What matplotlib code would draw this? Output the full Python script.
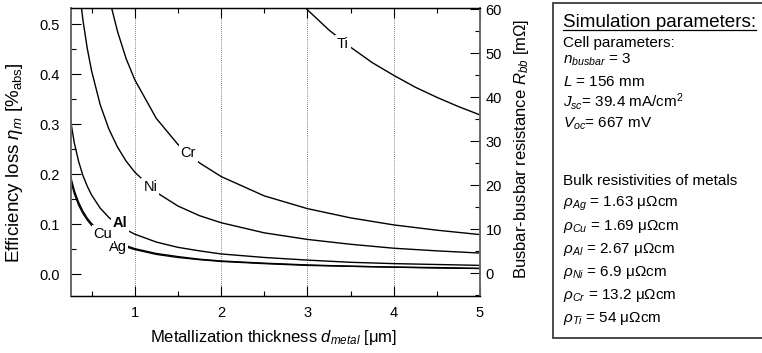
import numpy as np
import matplotlib
matplotlib.use("Agg")
import matplotlib.pyplot as plt
from matplotlib.ticker import MultipleLocator
from matplotlib.patches import Rectangle
from matplotlib.lines import Line2D

plt.rcParams["font.family"] = ["Liberation Sans", "DejaVu Sans"]
plt.rcParams["mathtext.fontset"] = "custom"
plt.rcParams["mathtext.rm"] = "Liberation Sans"
plt.rcParams["mathtext.it"] = "Liberation Sans:italic"
plt.rcParams["mathtext.bf"] = "Liberation Sans:bold"

# ── Busbar-busbar resistance vs. metal thickness (mOhm) ──────────────────────

thickness_fine = [0.25, 0.3, 0.35, 0.4, 0.45, 0.5, 0.6, 0.7, 0.8, 0.9, 1.0,
                  1.25, 1.5, 1.75, 2.0, 2.5, 3.0, 3.5, 4.0, 4.5, 5.0]
r_ag = [21.7, 18.1, 15.5, 13.6, 12.1, 10.9, 9.1, 7.8, 6.8, 6.0, 5.4,
        4.3, 3.6, 3.1, 2.7, 2.2, 1.8, 1.6, 1.4, 1.2, 1.1]
r_cu = [22.5, 18.8, 16.1, 14.1, 12.5, 11.3, 9.4, 8.0, 7.0, 6.3, 5.6,
        4.5, 3.8, 3.2, 2.8, 2.3, 1.9, 1.6, 1.4, 1.3, 1.1]
r_al = [35.6, 29.6, 25.4, 22.2, 19.8, 17.8, 14.8, 12.7, 11.1, 9.9, 8.9,
        7.1, 5.9, 5.1, 4.4, 3.6, 3.0, 2.5, 2.2, 2.0, 1.8]

thickness_ni = [0.35, 0.4, 0.45, 0.5, 0.6, 0.7, 0.8, 0.9, 1.0, 1.25, 1.5,
                1.75, 2.0, 2.5, 3.0, 3.5, 4.0, 4.5, 5.0]
r_ni = [65.7, 57.5, 51.1, 46.0, 38.3, 32.8, 28.7, 25.5, 23.0, 18.4, 15.3,
        13.1, 11.5, 9.2, 7.7, 6.6, 5.7, 5.1, 4.6]

thickness_cr = [0.7, 0.8, 0.9, 1.0, 1.25, 1.5, 1.75, 2.0, 2.5, 3.0, 3.5,
                4.0, 4.5, 5.0]
r_cr = [62.8, 55.0, 48.8, 44.0, 35.2, 29.3, 25.1, 22.0, 17.6, 14.7, 12.6,
        11.0, 9.8, 8.8]

thickness_ti = [2.75, 3.0, 3.25, 3.5, 3.75, 4.0, 4.25, 4.5, 4.75, 5.0]
r_ti = [65.4, 59.9, 55.3, 51.4, 47.9, 45.0, 42.3, 40.0, 37.9, 36.0]

# curve name -> (thickness, resistance, label thickness, label nudge, bold)
curves = {
    "Ag": (thickness_fine, r_ag, 0.80, -0.8, False),
    "Cu": (thickness_fine, r_cu, 0.63, 0.0, False),
    "Al": (thickness_fine, r_al, 0.83, 0.6, True),
    "Ni": (thickness_ni, r_ni, 1.18, 0.0, False),
    "Cr": (thickness_cr, r_cr, 1.62, 0.0, False),
    "Ti": (thickness_ti, r_ti, 3.41, -0.6, False),
}

param_lines = [
    r"Cell parameters:",
    r"$n_{busbar}$ = 3",
    r"$L$ = 156 mm",
    r"$J_{sc}$= 39.4 mA/cm$^2$",
    r"$V_{oc}$= 667 mV",
    r"Bulk resistivities of metals",
    r"$\rho_{Ag}$ = 1.63 μΩcm",
    r"$\rho_{Cu}$ = 1.69 μΩcm",
    r"$\rho_{Al}$ = 2.67 μΩcm",
    r"$\rho_{Ni}$ = 6.9 μΩcm",
    r"$\rho_{Cr}$ = 13.2 μΩcm",
    r"$\rho_{Ti}$ = 54 μΩcm",
]
# baseline of each line, pixels from the top of the figure
param_baselines = [47, 64, 86, 107, 128, 185, 207, 230, 253, 276, 299, 322]

W, H = 762, 353
fig = plt.figure(figsize=(W / 100, H / 100), dpi=100)
ax = fig.add_axes([70.7 / W, 1 - 296 / H, (480 - 70.7) / W, (296 - 8) / H])
ax_r = ax.twinx()

ax.set_xlim(0.258, 5.0)
ax.set_ylim(-0.044, 0.532)
ax_r.set_ylim(-5.16, 60.3)

for xv in [1, 2, 3, 4]:
    ax.axvline(xv, color="#555555", lw=0.6, ls=(0, (1, 1.5)), zorder=1)

for name, (d, r, d_lab, nudge, bold) in curves.items():
    ax_r.plot(d, r, color="black", lw=1.0, zorder=2)
    y_lab = np.interp(d_lab, d, r) + nudge
    ax_r.text(d_lab, y_lab, name, ha="center", va="center", fontsize=10.5,
              fontweight="bold" if bold else "normal", zorder=5,
              bbox=dict(fc="white", ec="none", pad=1.4))

# ticks
ax.xaxis.set_major_locator(MultipleLocator(1))
ax.xaxis.set_minor_locator(MultipleLocator(0.5))
ax.yaxis.set_major_locator(MultipleLocator(0.1))
ax.yaxis.set_minor_locator(MultipleLocator(0.05))
ax_r.yaxis.set_major_locator(MultipleLocator(10))
ax_r.yaxis.set_minor_locator(MultipleLocator(5))

ax.tick_params(axis="x", which="both", direction="in", top=True, pad=7.5,
               labelsize=10.5)
ax.tick_params(axis="y", which="both", direction="in", right=False, pad=8,
               labelsize=10.5)
ax_r.tick_params(axis="y", which="both", direction="in", pad=4, labelsize=10.5)
for a in (ax, ax_r):
    a.tick_params(which="major", length=7, width=0.8)
    a.tick_params(which="minor", length=3.3, width=0.8)

ax.xaxis.set_major_formatter(plt.FuncFormatter(lambda v, p: f"{v:.0f}"))
ax.yaxis.set_major_formatter(plt.FuncFormatter(lambda v, p: f"{v:.1f}"))

for a in (ax, ax_r):
    a.spines["left"].set_color("#6a6a6a")
    a.spines["right"].set_color("#6a6a6a")
    a.spines["left"].set_linewidth(1.3)
    a.spines["right"].set_linewidth(1.3)
    a.spines["top"].set_linewidth(0.9)
    a.spines["bottom"].set_linewidth(0.9)

fig.text(274 / W, 1 - 342 / H, r"Metallization thickness $d_{metal}$ [μm]",
         ha="center", va="baseline", fontsize=12)
fig.text(19 / W, 1 - 163 / H, r"Efficiency loss $\eta_m$ [%$_{\mathrm{abs}}$]",
         ha="center", va="baseline", rotation=90, rotation_mode="anchor",
         fontsize=13.5)
fig.text(526 / W, 1 - 149 / H, r"Busbar-busbar resistance $R_{bb}$ [mΩ]",
         ha="center", va="baseline", rotation=90, rotation_mode="anchor",
         fontsize=12)

# parameter box
fig.patches.append(Rectangle((553 / W, 1 - 338 / H), 0.5, (338 - 3) / H,
                             transform=fig.transFigure, fc="white",
                             ec="#3c3c3c", lw=1.3, zorder=0))
title = fig.text(563 / W, 1 - 26.7 / H, "Simulation parameters:",
                 ha="left", va="baseline", fontsize=13.6)
for txt, yb in zip(param_lines, param_baselines):
    fig.text(563 / W, 1 - yb / H, txt, ha="left", va="baseline", fontsize=11)

fig.canvas.draw()
bb = title.get_window_extent().transformed(fig.transFigure.inverted())
fig.lines.append(Line2D([bb.x0, bb.x1], [1 - 29.5 / H] * 2,
                        transform=fig.transFigure, color="black", lw=0.9))

fig.savefig("out.png", dpi=100)
